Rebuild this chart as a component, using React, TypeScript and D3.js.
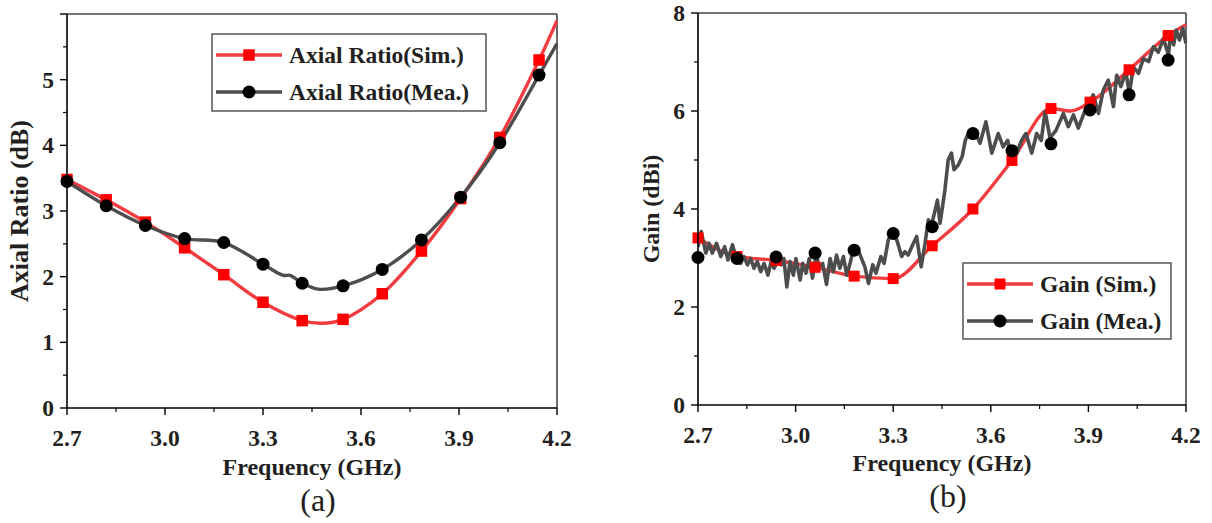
import React from "react";
import * as d3 from "d3";

// ---------- Data ----------
const markerFreq = [2.7, 2.82, 2.94, 3.06, 3.18, 3.3, 3.42, 3.545, 3.665, 3.785, 3.905, 4.025, 4.145];

// (a) Axial ratio
const arSim = [3.48, 3.17, 2.83, 2.44, 2.03, 1.61, 1.33, 1.35, 1.74, 2.39, 3.19, 4.12, 5.3];
const arMea = [3.45, 3.08, 2.78, 2.58, 2.52, 2.19, 1.9, 1.86, 2.11, 2.56, 3.21, 4.04, 5.07];
// extra points (not marked)
const arSimExtraFreq = [3.48, 4.2];
const arSimExtra = [1.29, 5.9];
const arMeaExtraFreq = [3.362, 3.383, 3.469, 4.2];
const arMeaExtra = [2.02, 2.02, 1.81, 5.55];

// (b) Gain
const gainSim = [3.41, 3.03, 2.95, 2.81, 2.63, 2.58, 3.25, 4.0, 4.99, 6.05, 6.18, 6.84, 7.54];
const gainSimExtraFreq = [3.845, 4.2];
const gainSimExtra = [6.0, 7.76];
const gainMeaMarkers = [3.01, 2.99, 3.02, 3.1, 3.16, 3.5, 3.64, 5.54, 5.19, 5.33, 6.02, 6.33, 7.04];
const gainMeaFreq = [
  2.7, 2.71, 2.724, 2.734, 2.744, 2.757, 2.77, 2.782, 2.792, 2.806, 2.816, 2.831, 2.841, 2.852, 2.862,
  2.872, 2.882, 2.893, 2.903, 2.915, 2.925, 2.934, 2.944, 2.956, 2.964, 2.973, 2.983, 2.993, 3.001,
  3.014, 3.022, 3.032, 3.042, 3.052, 3.063, 3.073, 3.083, 3.095, 3.106, 3.116, 3.126, 3.136, 3.147,
  3.157, 3.169, 3.177, 3.188, 3.213, 3.224, 3.237, 3.247, 3.262, 3.272, 3.285, 3.297, 3.311, 3.326,
  3.336, 3.346, 3.36, 3.372, 3.386, 3.398, 3.408, 3.418, 3.436, 3.444, 3.459, 3.469, 3.479, 3.487,
  3.5, 3.512, 3.522, 3.534, 3.55, 3.567, 3.585, 3.603, 3.623, 3.638, 3.652, 3.668, 3.695, 3.708,
  3.726, 3.741, 3.755, 3.767, 3.782, 3.8, 3.823, 3.838, 3.854, 3.869, 3.89, 3.915, 3.931, 3.946,
  3.961, 3.977, 3.987, 4.0, 4.015, 4.026, 4.038, 4.054, 4.069, 4.085, 4.1, 4.115, 4.131, 4.146,
  4.153, 4.162, 4.17, 4.18, 4.19, 4.2,
];
const gainMeaVal = [
  3.23, 3.54, 3.1, 3.3, 3.1, 3.3, 3.03, 3.23, 2.96, 3.27, 3.03, 2.89, 3.03, 2.86, 2.99,
  2.79, 2.93, 2.72, 2.89, 2.65, 2.93, 2.79, 2.93, 2.86, 2.99, 2.41, 2.93, 2.65, 2.99,
  2.55, 2.89, 2.69, 2.99, 2.59, 3.06, 2.82, 2.89, 2.46, 2.99, 2.72, 3.06, 2.79, 3.03,
  2.65, 2.93, 3.16, 3.23, 2.82, 2.48, 2.86, 2.69, 3.03, 2.89, 3.37, 3.54, 3.37, 3.03,
  3.13, 3.06, 3.27, 3.44, 2.82, 3.3, 3.78, 3.67, 4.18, 3.71, 4.39, 5.0, 5.14, 4.8,
  4.9, 5.07, 5.41, 5.58, 5.6, 5.34, 5.78, 5.14, 5.54, 5.27, 5.4, 4.93, 5.41, 5.54,
  5.14, 5.54, 5.4, 5.99, 5.45, 5.6, 5.95, 5.68, 5.92, 5.65, 6.02, 6.33, 5.95, 6.43,
  6.63, 6.09, 6.73, 6.5, 6.8, 6.36, 6.9, 6.77, 7.07, 7.01, 7.31, 7.2, 7.48, 7.14,
  7.59, 7.35, 7.65, 7.45, 7.69, 7.38,
];

const xTicks = [2.7, 3.0, 3.3, 3.6, 3.9, 4.2];
const xMinorTicks = [2.85, 3.15, 3.45, 3.75, 4.05];
const arYTicks = [0, 1, 2, 3, 4, 5];
const arYMinor = [0.5, 1.5, 2.5, 3.5, 4.5, 5.5];
const gainYTicks = [0, 2, 4, 6, 8];
const gainYMinor = [1, 3, 5, 7];

const RED_LINE = "#f23c3f";
const RED_MARK = "#ff0000";
const GRAY_LINE = "#4d4d4d";
const FONT = "'Liberation Serif', 'Times New Roman', serif";
const TXT = "#231f20";

type Pt = [number, number];

function merge(f1: number[], v1: number[], f2: number[], v2: number[]): Pt[] {
  const pts: Pt[] = f1.map((f, i) => [f, v1[i]] as Pt).concat(f2.map((f, i) => [f, v2[i]] as Pt));
  pts.sort((a, b) => a[0] - b[0]);
  return pts;
}

interface Series {
  line: Pt[];
  markers: Pt[];
  color: string;
  markerColor: string;
  shape: "square" | "circle";
  curve: any;
  width: number;
}

interface PanelProps {
  left: number;
  right: number;
  top: number;
  bottom: number;
  yMax: number;
  yTicks: number[];
  yMinor: number[];
  yTickLabels: number[];
  yTitle: string;
  yTitleSize: number;
  series: Series[];
  legend: { x: number; y: number; w: number; h: number; labels: string[] };
  caption: string;
  captionY: number;
  xTitleY: number;
  yTitleX: number;
  sqSize: number;
  circR: number;
}

function Marker({ x, y, shape, color, sq, r }: any) {
  if (shape === "square") return <rect x={x - sq / 2} y={y - sq / 2} width={sq} height={sq} fill={color} />;
  return <circle cx={x} cy={y} r={r} fill={color} />;
}

function Panel(p: PanelProps) {
  const x = d3.scaleLinear().domain([2.7, 4.2]).range([p.left, p.right]);
  const y = d3.scaleLinear().domain([0, p.yMax]).range([p.bottom, p.top]);
  const cx = (p.left + p.right) / 2;
  return (
    <g fontFamily={FONT}>
      <defs>
        <clipPath id={"clip" + p.left}>
          <rect x={p.left} y={p.top - 2} width={p.right - p.left + 1} height={p.bottom - p.top + 2} />
        </clipPath>
      </defs>
      {/* frame top/right */}
      <line x1={p.left} x2={p.right} y1={p.top} y2={p.top} stroke="#444" strokeWidth={1.6} />
      <line x1={p.right} x2={p.right} y1={p.top} y2={p.bottom} stroke="#444" strokeWidth={1.6} />
      {/* series */}
      <g clipPath={`url(#clip${p.left})`}>
        {p.series.map((s, i) => {
          const gen = d3
            .line<Pt>()
            .x((d) => x(d[0]))
            .y((d) => y(d[1]))
            .curve(s.curve);
          return <path key={"l" + i} d={gen(s.line) || ""} fill="none" stroke={s.color} strokeWidth={s.width} strokeLinejoin="round" />;
        })}
      </g>
      {p.series.map((s, i) => (
        <g key={"m" + i}>
          {s.markers.map((d, j) => (
            <Marker key={j} x={x(d[0])} y={y(d[1])} shape={s.shape} color={s.markerColor} sq={p.sqSize} r={p.circR} />
          ))}
        </g>
      ))}
      {/* axes */}
      <line x1={p.left} x2={p.right} y1={p.bottom} y2={p.bottom} stroke="#000" strokeWidth={1.6} />
      <line x1={p.left} x2={p.left} y1={p.top} y2={p.bottom} stroke="#000" strokeWidth={1.6} />
      {xTicks.map((t) => (
        <g key={"xt" + t}>
          <line x1={x(t)} x2={x(t)} y1={p.bottom} y2={p.bottom + 7} stroke="#000" strokeWidth={1.4} />
          <text x={x(t)} y={p.bottom + 38} textAnchor="middle" fontSize={23.5} fontWeight="bold" fill={TXT}>
            {t.toFixed(1)}
          </text>
        </g>
      ))}
      {xMinorTicks.map((t) => (
        <line key={"xm" + t} x1={x(t)} x2={x(t)} y1={p.bottom} y2={p.bottom + 4} stroke="#000" strokeWidth={1.2} />
      ))}
      {p.yTicks.map((t) => (
        <line key={"yt" + t} x1={p.left - 7} x2={p.left} y1={y(t)} y2={y(t)} stroke="#000" strokeWidth={1.4} />
      ))}
      {p.yTickLabels.map((t) => (
        <text key={"yl" + t} x={p.left - 13} y={y(t) + 8} textAnchor="end" fontSize={23.5} fontWeight="bold" fill={TXT}>
          {t}
        </text>
      ))}
      {p.yMinor.map((t) => (
        <line key={"ym" + t} x1={p.left - 4} x2={p.left} y1={y(t)} y2={y(t)} stroke="#000" strokeWidth={1.2} />
      ))}
      {/* titles */}
      <text x={cx} y={p.xTitleY} textAnchor="middle" fontSize={24} fontWeight="bold" fill={TXT}>
        Frequency (GHz)
      </text>
      <text
        transform={`translate(${p.yTitleX},${(p.top + p.bottom) / 2}) rotate(-90)`}
        textAnchor="middle"
        fontSize={p.yTitleSize}
        fontWeight="bold"
        fill={TXT}
      >
        {p.yTitle}
      </text>
      <text x={cx + 6} y={p.captionY} textAnchor="middle" fontSize={32} fill={TXT}>
        {p.caption}
      </text>
      {/* legend */}
      <rect x={p.legend.x} y={p.legend.y} width={p.legend.w} height={p.legend.h} fill="#fff" stroke="#555" strokeWidth={1.5} />
      {p.series.map((s, i) => {
        const ly = p.legend.y + 21 + i * 37;
        const lx = p.legend.x + 4;
        return (
          <g key={"lg" + i}>
            <line x1={lx} x2={lx + 66} y1={ly} y2={ly} stroke={s.color} strokeWidth={3.4} />
            <Marker x={lx + 33} y={ly} shape={s.shape} color={s.markerColor} sq={p.sqSize} r={p.circR} />
            <text x={lx + 73} y={ly + 8} fontSize={23.5} fontWeight="bold" fill={TXT}>
              {p.legend.labels[i]}
            </text>
          </g>
        );
      })}
    </g>
  );
}

export default function App() {
  const arSimLine = merge(markerFreq, arSim, arSimExtraFreq, arSimExtra);
  const arMeaLine = merge(markerFreq, arMea, arMeaExtraFreq, arMeaExtra);
  const gainSimLine = merge(markerFreq, gainSim, gainSimExtraFreq, gainSimExtra);
  const gainMeaLine: Pt[] = gainMeaFreq.map((f, i) => [f, gainMeaVal[i]]);

  const toPts = (v: number[]): Pt[] => markerFreq.map((f, i) => [f, v[i]]);

  return (
    <svg width={1212} height={523} style={{ position: "absolute", left: 0, top: 0, background: "#fff" }}>
      <rect width={1212} height={523} fill="#fff" />
      <Panel
        left={67}
        right={557}
        top={14}
        bottom={408}
        yMax={6}
        yTicks={[0, 1, 2, 3, 4, 5, 6]}
        yMinor={arYMinor}
        yTickLabels={arYTicks}
        yTitle="Axial Ratio (dB)"
        yTitleSize={26}
        series={[
          { line: arSimLine, markers: toPts(arSim), color: RED_LINE, markerColor: RED_MARK, shape: "square", curve: d3.curveCatmullRom.alpha(0.5), width: 3.4 },
          { line: arMeaLine, markers: toPts(arMea), color: GRAY_LINE, markerColor: "#000", shape: "circle", curve: d3.curveCatmullRom.alpha(0.5), width: 3.4 },
        ]}
        legend={{ x: 212, y: 34, w: 274, h: 77, labels: ["Axial Ratio(Sim.)", "Axial Ratio(Mea.)"] }}
        caption="(a)"
        captionY={511}
        xTitleY={475}
        yTitleX={28}
        sqSize={11.5}
        circR={6.5}
      />
      <Panel
        left={698}
        right={1186}
        top={13}
        bottom={405}
        yMax={8}
        yTicks={gainYTicks}
        yMinor={gainYMinor}
        yTickLabels={gainYTicks}
        yTitle="Gain (dBi)"
        yTitleSize={24}
        series={[
          { line: gainSimLine, markers: toPts(gainSim), color: RED_LINE, markerColor: RED_MARK, shape: "square", curve: d3.curveMonotoneX, width: 3.4 },
          { line: gainMeaLine, markers: toPts(gainMeaMarkers), color: GRAY_LINE, markerColor: "#000", shape: "circle", curve: d3.curveLinear, width: 3.6 },
        ]}
        legend={{ x: 963, y: 263, w: 208, h: 76, labels: ["Gain (Sim.)", "Gain (Mea.)"] }}
        caption="(b)"
        captionY={507}
        xTitleY={471}
        yTitleX={659}
        sqSize={11}
        circR={6.5}
      />
    </svg>
  );
}
